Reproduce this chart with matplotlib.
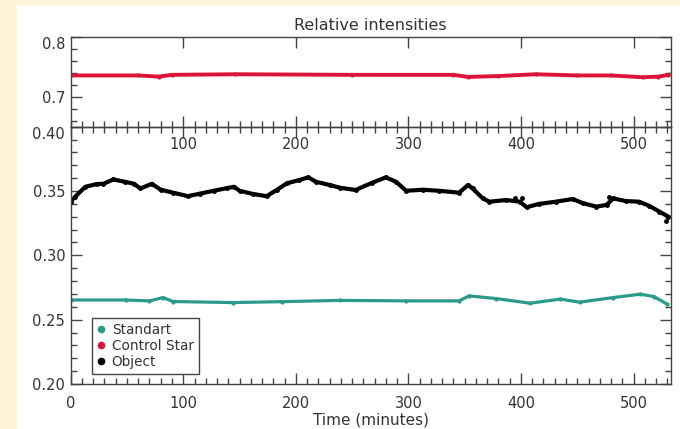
import matplotlib.pyplot as plt
from matplotlib.patches import Rectangle
from matplotlib.ticker import MultipleLocator
from matplotlib.lines import Line2D

# values
t_obj = [0, 4, 13, 23, 29, 38, 48, 56, 62, 72, 80, 91, 104, 115, 127, 139, 145, 150,
         162, 174, 183, 192, 203, 211, 218, 230, 239, 253, 268, 280, 289, 298, 313, 327,
         345, 353, 357, 366, 372, 387, 399, 405, 416, 431, 446, 455, 467, 476, 482, 493,
         505, 514, 523, 531]
obj = [0.3417, 0.3456, 0.3533, 0.3554, 0.3556, 0.3590, 0.3572, 0.3557, 0.3520, 0.3556,
       0.3510, 0.3487, 0.3460, 0.3480, 0.3502, 0.3523, 0.3533, 0.3502, 0.3477, 0.3460,
       0.3508, 0.3560, 0.3585, 0.3606, 0.3572, 0.3547, 0.3526, 0.3508, 0.3565, 0.3606,
       0.3572, 0.3502, 0.3510, 0.3502, 0.3487, 0.3547, 0.3520, 0.3443, 0.3417, 0.3430,
       0.3417, 0.3374, 0.3400, 0.3417, 0.3438, 0.3405, 0.3379, 0.3392, 0.3443, 0.3422,
       0.3417, 0.3384, 0.3340, 0.3300]
t_obj_extra = [395, 401, 478, 529]
obj_extra = [0.3445, 0.3443, 0.3450, 0.3270]

t_std = [0, 49, 70, 82, 91, 144, 188, 239, 298, 345, 354, 378, 408, 435, 452, 482,
         506, 518, 530]
std = [0.2653, 0.2653, 0.2646, 0.2672, 0.2641, 0.2633, 0.2640, 0.2650, 0.2646, 0.2646,
       0.2685, 0.2664, 0.2628, 0.2660, 0.2636, 0.2672, 0.2698, 0.2680, 0.2620]

t_ctl = [0, 60, 78, 90, 146, 250, 340, 353, 380, 413, 450, 480, 508, 522, 531]
ctl = [0.736, 0.736, 0.734, 0.737, 0.738, 0.737, 0.737, 0.7335, 0.735, 0.738, 0.736,
       0.736, 0.733, 0.734, 0.737]

labels = ['Standart', 'Control Star', 'Object']
colors = ['#2a9a8c', '#dc143c', 'black']
axcol = '#444444'
txtcol = '#333333'

fig = plt.figure(figsize=(6.8, 4.29), dpi=100, facecolor='#fff4d6')
fig.patches.append(Rectangle((17/680, 0), 1, 424/429, transform=fig.transFigure,
                             facecolor='white', edgecolor='none', zorder=-5))

ax2 = fig.add_axes([70.7/680, 45/429, 600/680, 257.3/429])
ax1 = fig.add_axes([70.7/680, 302.3/429, 600/680, 89.4/429])

for ax in (ax1, ax2):
    ax.set_facecolor('none')
    for s in ax.spines.values():
        s.set_color(axcol)
        s.set_linewidth(1.0)
    ax.set_xlim(0, 533)
    ax.tick_params(which='both', direction='in', top=True, right=True,
                   color=axcol, labelcolor=txtcol, labelsize=10.5, width=1)
    ax.tick_params(which='major', length=8)
    ax.tick_params(which='minor', length=4)
    ax.tick_params(axis='y', pad=4)
    ax.xaxis.set_minor_locator(MultipleLocator(10))

# top panel
ax1.plot(t_ctl, ctl, color=colors[1], lw=2.8, marker='o', ms=2)
ax1.set_ylim(0.65, 0.80)
ax1.set_yticks([0.7, 0.8])
ax1.set_yticklabels(['0.7', '0.8'])
ax1.yaxis.set_minor_locator(MultipleLocator(0.02))
ax1.set_xticks([100, 200, 300, 400, 500])
ax1.tick_params(axis='x', which='minor', top=False)
ax1.tick_params(axis='x', labelbottom=True, pad=7.5)
for lab in ax1.get_yticklabels():
    if lab.get_text() == '0.8':
        lab.set_va('top')

# bottom panel
ax2.plot(t_std, std, color=colors[0], lw=2.3, marker='o', ms=2)
ax2.plot(t_obj, obj, color=colors[2], lw=3, marker='o', ms=2.5)
ax2.plot(t_obj_extra, obj_extra, ls='none', color=colors[2], marker='o', ms=2.5)
ax2.set_ylim(0.20, 0.40)
ax2.set_yticks([0.20, 0.25, 0.30, 0.35, 0.40])
ax2.set_yticklabels(['0.20', '0.25', '0.30', '0.35', '0.40'])
ax2.yaxis.set_minor_locator(MultipleLocator(0.01))
ax2.set_xticks([0, 100, 200, 300, 400, 500])
ax2.tick_params(axis='x', pad=9)
for lab in ax2.get_yticklabels():
    if lab.get_text() == '0.40':
        lab.set_va('top')
ax2.set_xlabel('Time (minutes)', fontsize=11, color=txtcol, labelpad=1)

handles = [Line2D([], [], ls='none', marker='o', ms=4.5, color=c) for c in colors]
leg = ax2.legend(handles, labels, loc='lower left', bbox_to_anchor=(0.0355, 0.039),
                 borderaxespad=0, fancybox=False, framealpha=1, edgecolor=axcol,
                 fontsize=9.8, handlelength=0.6, handletextpad=0.5, labelspacing=0.15,
                 borderpad=0.35)
leg.get_frame().set_linewidth(1.0)
for t in leg.get_texts():
    t.set_color(txtcol)

fig.text(370/680, 1 - 25/429, 'Relative intensities', ha='center', va='center',
         fontsize=11.5, color=txtcol)

fig.savefig('out.png', dpi=100, facecolor=fig.get_facecolor())
